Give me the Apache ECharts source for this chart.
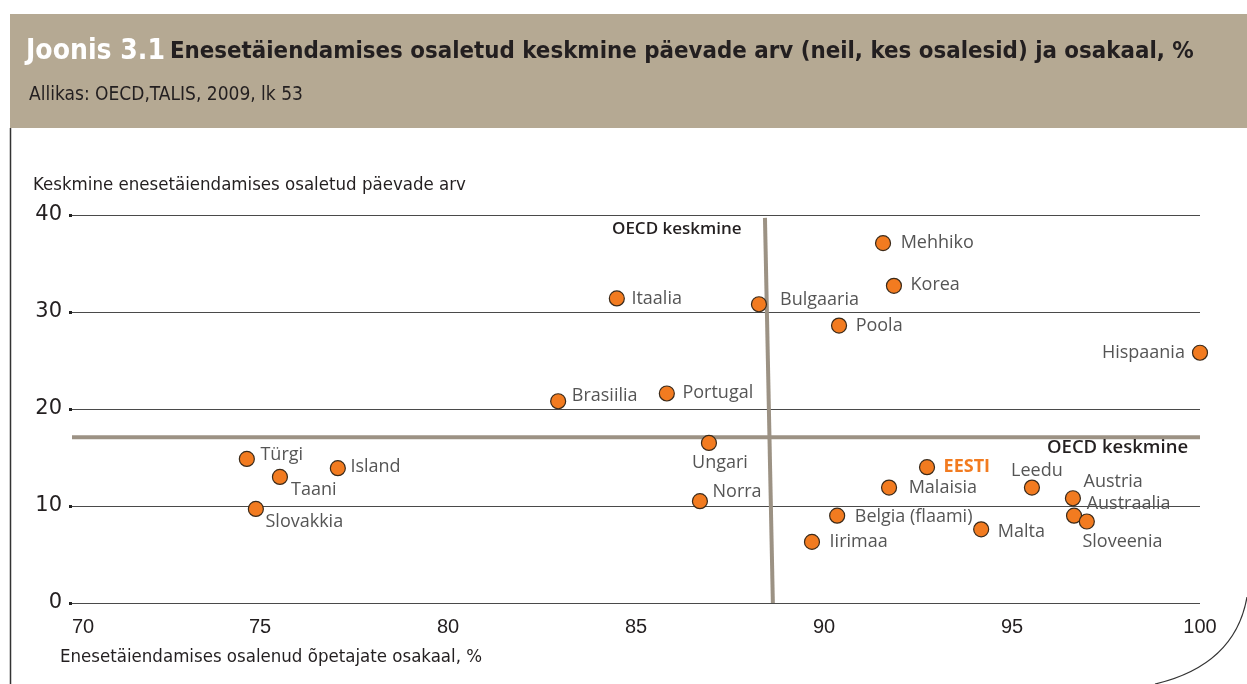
<!DOCTYPE html>
<html>
<head>
<meta charset="utf-8">
<script src="https://cdn.jsdelivr.net/npm/echarts@6/dist/echarts.min.js"></script>
<style>
  html, body { margin: 0; padding: 0; background: #fff; }
  #chart { width: 1247px; height: 684px; }
</style>
</head>
<body>
<div id="chart"></div>
<script>
// andmed: osalenud õpetajate osakaal (%) ja keskmine päevade arv
var countries = ['Türgi', 'Taani', 'Island', 'Slovakkia', 'Brasiilia', 'Itaalia', 'Portugal', 'Bulgaaria',
  'Ungari', 'Norra', 'Iirimaa', 'Belgia (flaami)', 'Poola', 'Mehhiko', 'Malaisia', 'Korea', 'EESTI',
  'Malta', 'Leedu', 'Austria', 'Austraalia', 'Sloveenia', 'Hispaania']
var osakaal = [74.65, 75.53, 77.07, 74.89, 82.93, 84.49, 85.82, 88.27,
  86.94, 86.70, 89.68, 90.35, 90.40, 91.57, 91.73, 91.86, 92.74,
  94.18, 95.53, 96.62, 96.65, 96.99, 100]
var paevad = [14.85, 13.0, 13.9, 9.7, 20.8, 31.4, 21.6, 30.8,
  16.5, 10.5, 6.3, 9.0, 28.6, 37.1, 11.9, 32.7, 14.0,
  7.6, 11.9, 10.8, 9.0, 8.4, 25.8]
// OECD keskmine: püstjoon (ülemine ja alumine ots, originaalis veidi viltu) ja rõhtjoon
var oecdOsakaal = [88.43, 88.64]
var oecdPaevadEnds = [39.7, 0]
var oecdPaevad = 17.1
var xTicks = [70, 100, 5]
var yTicks = [0, 40, 10]

var orange = '#f27b20'
var tan = '#9c9284'
var narrow = '"Liberation Sans Narrow", "DejaVu Sans Condensed", sans-serif'

// siltide paigutus
var labelPlace = {
  'Türgi': { offset: [-1.5, -4] },
  'Taani': { offset: [-4, 13] },
  'Island': { offset: [-2.5, -1] },
  'Slovakkia': { offset: [-5.5, 13] },
  'Brasiilia': { offset: [-1.5, -5] },
  'Itaalia': { offset: [-0.5, 0] },
  'Portugal': { offset: [0.5, -1] },
  'Bulgaaria': { offset: [6, -4] },
  'Ungari': { position: 'bottom', distance: 3, offset: [11, 0] },
  'Norra': { offset: [-2.5, -9] },
  'Iirimaa': { offset: [2.5, 0] },
  'Belgia (flaami)': { offset: [2.5, 1] },
  'Poola': { offset: [1.5, 0] },
  'Mehhiko': { offset: [2.5, 0] },
  'Malaisia': { offset: [4.5, 0] },
  'Korea': { offset: [1.5, -1] },
  'EESTI': { offset: [1.5, 0], color: orange, fontWeight: 'bold' },
  'Malta': { offset: [1.5, 3] },
  'Leedu': { position: 'top', distance: 0, offset: [5, 0] },
  'Austria': { offset: [-4.5, -16] },
  'Austraalia': { offset: [-2.5, -12] },
  'Sloveenia': { offset: [-19.5, 20] },
  'Hispaania': { position: 'left' }
}

var points = countries.map(function(name, i) {
  return {
    name: name,
    value: [osakaal[i], paevad[i]],
    label: labelPlace[name] || {}
  }
})

function plainTitle(text, left, top, size, extra) {
  var ts = { color: '#231f20', fontFamily: narrow, fontWeight: 'normal', fontSize: size }
  for (var k in extra) ts[k] = extra[k]
  return { text: text, left: left, top: top, padding: 0, textStyle: ts }
}

var chart = echarts.init(document.getElementById('chart'))
chart.setOption({
  animation: false,
  title: [
    {
      text: '{a|Joonis 3.1} {b|Enesetäiendamises osaletud keskmine päevade arv (neil, kes osalesid) ja osakaal, %}',
      left: 26, top: 38, padding: 0,
      textStyle: {
        rich: {
          a: { color: '#fff', fontFamily: narrow, fontWeight: 'bold', fontSize: 28 },
          b: { color: '#231f20', fontFamily: narrow, fontWeight: 'bold', fontSize: 23.8 }
        }
      }
    },
    plainTitle('Allikas: OECD,TALIS, 2009, lk 53', 29, 86, 19),
    plainTitle('Keskmine enesetäiendamises osaletud päevade arv', 33, 176, 18.5),
    plainTitle('Enesetäiendamises osalenud õpetajate osakaal, %', 60, 648, 18.5),
    plainTitle('OECD keskmine', 612, 221, 17, { fontFamily: 'Open Sans', fontWeight: 600 }),
    plainTitle('OECD keskmine', 1047, 438, 18.5, { fontFamily: 'Open Sans', fontWeight: 600 })
  ],
  graphic: [
    { type: 'rect', shape: { x: 10, y: 14, width: 1237, height: 114 }, style: { fill: '#b5a993' }, z: -1 },
    { type: 'line', shape: { x1: 10.5, y1: 128, x2: 10.5, y2: 684 }, style: { stroke: '#333', lineWidth: 1.5 } },
    { type: 'bezierCurve', shape: { x1: 1247, y1: 597, cpx1: 1235, cpy1: 665, x2: 1155, y2: 684 },
      style: { stroke: '#333', lineWidth: 1.2, fill: null } }
  ],
  grid: { left: 72, top: 215, width: 1128, height: 388 },
  xAxis: {
    type: 'value',
    min: xTicks[0], max: xTicks[1], interval: xTicks[2],
    axisLine: { show: false },
    axisTick: { show: false },
    splitLine: { show: false },
    axisLabel: {
      margin: 14, color: '#231f20', fontFamily: '"Liberation Sans", sans-serif', fontSize: 20,
      alignMinLabel: 'left'
    }
  },
  yAxis: {
    type: 'value',
    min: yTicks[0], max: yTicks[1], interval: yTicks[2],
    axisLine: { show: false },
    axisTick: { show: true, length: 3, lineStyle: { color: '#222', width: 3 } },
    splitLine: { show: true, lineStyle: { color: '#4a4a4a', width: 1 } },
    axisLabel: { margin: 10, color: '#231f20', fontFamily: '"DejaVu Sans", sans-serif', fontSize: 21 }
  },
  series: [
    {
      name: 'OECD keskmine (osakaal)',
      type: 'line',
      symbol: 'none',
      data: [[oecdOsakaal[0], oecdPaevadEnds[0]], [oecdOsakaal[1], oecdPaevadEnds[1]]],
      lineStyle: { color: tan, width: 4 },
      z: 1
    },
    {
      name: 'OECD keskmine (päevad)',
      type: 'line',
      symbol: 'none',
      data: [[xTicks[0], oecdPaevad], [xTicks[1], oecdPaevad]],
      lineStyle: { color: tan, width: 4 },
      z: 1
    },
    {
      name: 'Riigid',
      type: 'scatter',
      symbolSize: 15,
      itemStyle: { color: orange, borderColor: '#3a2a1a', borderWidth: 1.2, opacity: 1 },
      label: {
        show: true,
        position: 'right',
        distance: 7,
        formatter: '{b}',
        color: '#555',
        fontFamily: 'Open Sans',
        fontSize: 18
      },
      data: points,
      z: 3
    }
  ]
})
</script>
</body>
</html>
